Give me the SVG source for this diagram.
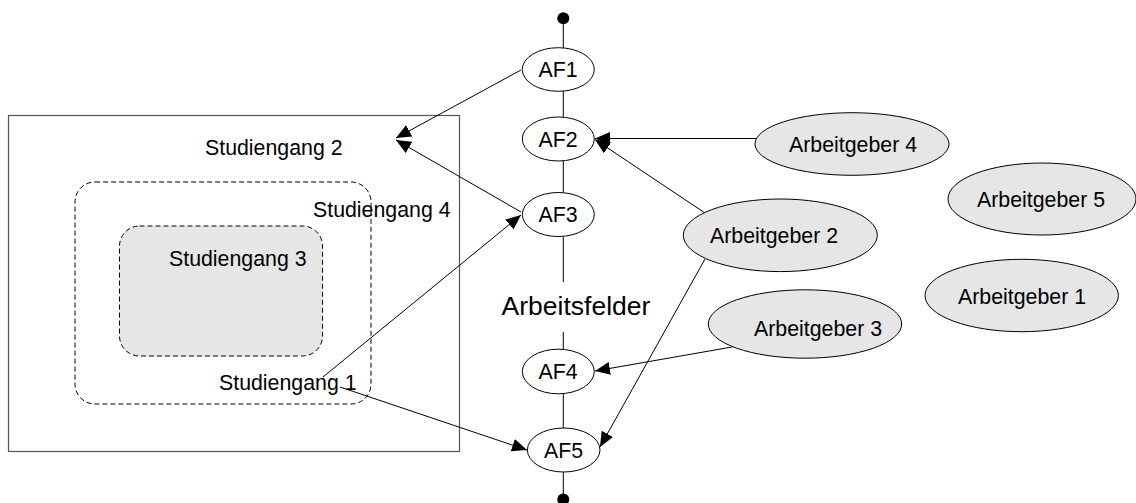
<svg xmlns="http://www.w3.org/2000/svg" width="1136" height="503" viewBox="0 0 1136 503">
<defs>
<marker id="arr" markerUnits="userSpaceOnUse" markerWidth="16" markerHeight="14" refX="15" refY="6.5" orient="auto">
<path d="M0,0 L15,6.5 L0,13 z" fill="#000"/>
</marker>
<style>
text{font-family:"Liberation Sans",Arial,sans-serif;font-size:21.33px;fill:#000}
.big{font-size:26.5px}
.af{fill:#fff;stroke:#000;stroke-width:1}
.ag{fill:#e6e6e6;stroke:#000;stroke-width:1}
.ln{stroke:#000;stroke-width:1;fill:none}
.ar{stroke:#000;stroke-width:1;fill:none;marker-end:url(#arr)}
.dash{stroke:#000;stroke-width:1;stroke-dasharray:5,3}
</style>
</defs>
<rect width="1136" height="503" fill="#fff"/>

<g id="studiengang2">
<rect x="8.5" y="115.5" width="451" height="336" fill="#fff" stroke="#555" stroke-width="1.2"/>
<text x="205" y="155">Studiengang 2</text>
</g>
<g id="studiengang4">
<rect x="75" y="182" width="296" height="222" rx="20" fill="none" class="dash"/>
<text x="313" y="217">Studiengang 4</text>
</g>
<g id="studiengang3">
<rect x="119.5" y="226" width="203" height="130" rx="20" fill="#e6e6e6" class="dash"/>
<text x="169" y="266">Studiengang 3</text>
</g>
<g id="studiengang1">
<text x="219" y="390">Studiengang 1</text>
</g>

<g id="connectors">
<circle cx="563.3" cy="18.3" r="6" fill="#000"/>
<circle cx="563.3" cy="499.5" r="6" fill="#000"/>
<line class="ln" x1="563.3" y1="18" x2="563.3" y2="48"/>
<line class="ln" x1="563.3" y1="91" x2="563.3" y2="117"/>
<line class="ln" x1="563.3" y1="161" x2="563.3" y2="192"/>
<line class="ln" x1="563.3" y1="237" x2="563.3" y2="282"/>
<line class="ln" x1="563.3" y1="332" x2="563.3" y2="349"/>
<line class="ln" x1="563.3" y1="394" x2="563.3" y2="428"/>
<line class="ln" x1="563.3" y1="472" x2="563.3" y2="499"/>
<line class="ar" x1="521" y1="70" x2="396" y2="138"/>
<line class="ar" x1="521" y1="212" x2="396" y2="140"/>
<line class="ar" x1="323" y1="377" x2="521" y2="215"/>
<line class="ar" x1="340" y1="387" x2="527" y2="450"/>
<line class="ar" x1="756" y1="138.5" x2="595" y2="138.5"/>
<line class="ar" x1="723" y1="225" x2="595" y2="139.5"/>
<line class="ar" x1="705" y1="259" x2="600" y2="447"/>
<line class="ar" x1="732" y1="347" x2="595" y2="371"/>
</g>

<g id="arbeitsfelder">
<text class="big" x="576" y="315" text-anchor="middle">Arbeitsfelder</text>
</g>

<g id="af1"><ellipse class="af" cx="558.3" cy="69.5" rx="36" ry="21.8"/><text x="558" y="77" text-anchor="middle">AF1</text></g>
<g id="af2"><ellipse class="af" cx="558.3" cy="139" rx="36" ry="22"/><text x="558" y="146.5" text-anchor="middle">AF2</text></g>
<g id="af3"><ellipse class="af" cx="558.3" cy="214.5" rx="36" ry="22"/><text x="558" y="222" text-anchor="middle">AF3</text></g>
<g id="af4"><ellipse class="af" cx="558.3" cy="371.5" rx="36" ry="22.3"/><text x="558" y="379" text-anchor="middle">AF4</text></g>
<g id="af5"><ellipse class="af" cx="563.7" cy="450" rx="36.3" ry="22"/><text x="563.5" y="457.5" text-anchor="middle">AF5</text></g>

<g id="ag4"><ellipse class="ag" cx="852" cy="144" rx="97" ry="31.3"/><text x="853" y="144" dy="7.5" text-anchor="middle">Arbeitgeber 4</text></g>
<g id="ag5"><ellipse class="ag" cx="1042" cy="199" rx="94" ry="36"/><text x="1041" y="199" dy="7.5" text-anchor="middle">Arbeitgeber 5</text></g>
<g id="ag2"><ellipse class="ag" cx="780.3" cy="235.3" rx="97" ry="36.3"/><text x="774" y="235.5" dy="7.5" text-anchor="middle">Arbeitgeber 2</text></g>
<g id="ag1"><ellipse class="ag" cx="1021.7" cy="295.5" rx="96.7" ry="36.2"/><text x="1022" y="296" dy="7.5" text-anchor="middle">Arbeitgeber 1</text></g>
<g id="ag3"><ellipse class="ag" cx="805" cy="324" rx="96.7" ry="34.2"/><text x="818" y="328" dy="7.5" text-anchor="middle">Arbeitgeber 3</text></g>
</svg>
